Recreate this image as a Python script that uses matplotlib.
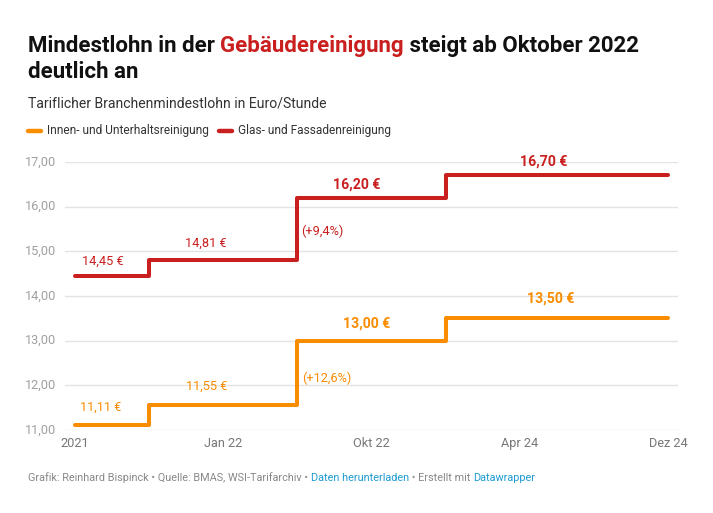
import matplotlib
matplotlib.use("Agg")
import matplotlib.pyplot as plt
from matplotlib.lines import Line2D

plt.rcParams['font.family'] = ['Roboto', 'DejaVu Sans']

categories = ["2021", "Jan 22", "Okt 22", "Apr 24", "Dez 24"]
innen = [11.11, 11.55, 13.00, 13.50, 13.50]
glas = [14.45, 14.81, 16.20, 16.70, 16.70]
series_names = ["Innen- und Unterhaltsreinigung", "Glas- und Fassadenreinigung"]
yticks = [11, 12, 13, 14, 15, 16, 17]

# labels: (text, x, y, bold)
glas_labels = [("14,45 €", 0.19, 14.78, False), ("14,81 €", 0.88, 15.19, False),
               ("(+9,4%)", 1.67, 15.44, False), ("16,20 €", 1.90, 16.50, True),
               ("16,70 €", 3.165, 17.00, True)]
innen_labels = [("11,11 €", 0.175, 11.51, False), ("11,55 €", 0.885, 11.99, False),
                ("(+12,6%)", 1.70, 12.16, False), ("13,00 €", 1.97, 13.38, True),
                ("13,50 €", 3.21, 13.95, True)]

RED = "#c91f1f"
ORANGE = "#fa8c00"
GRID = "#e3e3e3"

W, H = 713, 513
fig = plt.figure(figsize=(W / 100, H / 100), dpi=100)
ax = fig.add_axes([65 / W, 1 - 430 / H, (678 - 65) / W, (430 - 162) / H])

x = list(range(len(categories)))
ax.plot(x, glas, drawstyle="steps-mid", color=RED, lw=2.9, solid_capstyle="round",
        solid_joinstyle="round", zorder=3)
ax.plot(x, innen, drawstyle="steps-mid", color=ORANGE, lw=2.9, solid_capstyle="round",
        solid_joinstyle="round", zorder=3)

ax.set_xlim(-10 / 148.5, 4 + 10 / 148.5)
ax.set_ylim(11, 17)
ax.set_yticks(yticks)
ax.set_yticklabels([f"{v:.2f}".replace(".", ",") for v in yticks])
ax.set_xticks(x)
ax.set_xticklabels(categories)
ax.grid(axis="y", color=GRID, lw=1)
ax.set_axisbelow(True)
for s in ax.spines.values():
    s.set_visible(False)
ax.tick_params(axis="y", length=0, pad=6, labelsize=9.2, labelcolor="#a0a0a0")
ax.tick_params(axis="x", length=0, pad=5, labelsize=9.2, labelcolor="#777777")
for lbl in ax.get_yticklabels():
    lbl.set_verticalalignment("center")

for t, lx, ly, b in glas_labels:
    ax.text(lx, ly, t, color=RED, ha="center", va="center",
            fontsize=10.2 if b else 9.2, fontweight="bold" if b else "normal")
for t, lx, ly, b in innen_labels:
    ax.text(lx, ly, t, color=ORANGE, ha="center", va="center",
            fontsize=10.2 if b else 9.2, fontweight="bold" if b else "normal")

fig.canvas.draw()
renderer = fig.canvas.get_renderer()


def rich(pieces, x0, y0, **kw):
    xp = x0
    for txt, col in pieces:
        t = fig.text(xp / W, 1 - y0 / H, txt, color=col, va="baseline", ha="left", **kw)
        bb = t.get_window_extent(renderer)
        xp += bb.width


rich([("Mindestlohn in der ", "#111111"), ("Gebäudereinigung", RED),
      (" steigt ab Oktober 2022", "#111111")], 28, 52, fontsize=16, fontweight="bold")
fig.text(28 / W, 1 - 78 / H, "deutlich an", color="#111111", fontsize=16,
         fontweight="bold", va="baseline")
fig.text(28 / W, 1 - 107.5 / H, "Tariflicher Branchenmindestlohn in Euro/Stunde",
         color="#333333", fontsize=10.1, va="baseline")

# legend
leg_y = 1 - 131 / H
fig.add_artist(Line2D([28 / W, 41 / W], [leg_y, leg_y], color=ORANGE, lw=3.2,
                      solid_capstyle="round"))
fig.text(47 / W, leg_y, series_names[0], color="#333333", fontsize=8.6, va="center")
fig.add_artist(Line2D([219 / W, 232 / W], [leg_y, leg_y], color=RED, lw=3.2,
                      solid_capstyle="round"))
fig.text(238 / W, leg_y, series_names[1], color="#333333", fontsize=8.6, va="center")

GREY = "#888888"
BLUE = "#1d9bd1"
rich([("Grafik: Reinhard Bispinck • Quelle: BMAS, WSI-Tarifarchiv • ", GREY),
      ("Daten herunterladen", BLUE), (" • Erstellt mit ", GREY), ("Datawrapper", BLUE)],
     28, 481, fontsize=7.85)

fig.savefig("out.png", dpi=100, facecolor="white")
